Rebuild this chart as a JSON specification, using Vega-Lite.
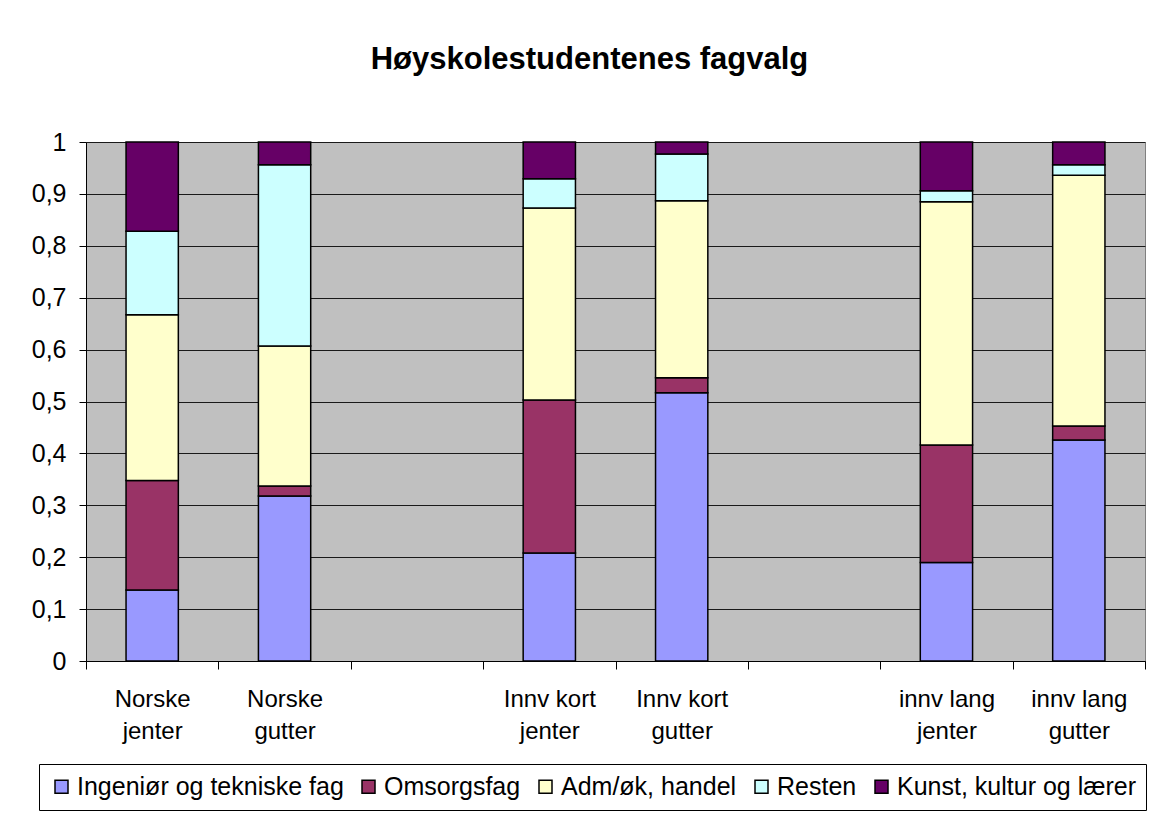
{
  "$schema": "https://vega.github.io/schema/vega-lite/v6.json",
  "width": 1059,
  "height": 519,
  "autosize": {"type": "none"},
  "padding": {"left": 86, "top": 142, "right": 5, "bottom": 161},
  "background": "white",
  "config": {
    "font": "Liberation Sans",
    "view": {"fill": "#C0C0C0", "stroke": "#808080", "strokeWidth": 1}
  },
  "title": {
    "text": "Høyskolestudentenes fagvalg",
    "font": "Liberation Sans",
    "fontSize": 31,
    "fontWeight": "bold",
    "color": "black",
    "anchor": "middle",
    "frame": "group",
    "dx": -26,
    "baseline": "alphabetic",
    "offset": 30
  },
  "data": {
    "values": [
      {"gruppe": "Norske jenter", "fag": "Ingeniør og tekniske fag", "k": 1, "andel": 0.137},
      {"gruppe": "Norske jenter", "fag": "Omsorgsfag", "k": 2, "andel": 0.211},
      {"gruppe": "Norske jenter", "fag": "Adm/øk, handel", "k": 3, "andel": 0.319},
      {"gruppe": "Norske jenter", "fag": "Resten", "k": 4, "andel": 0.161},
      {"gruppe": "Norske jenter", "fag": "Kunst, kultur og lærer", "k": 5, "andel": 0.172},
      {"gruppe": "Norske gutter", "fag": "Ingeniør og tekniske fag", "k": 1, "andel": 0.318},
      {"gruppe": "Norske gutter", "fag": "Omsorgsfag", "k": 2, "andel": 0.019},
      {"gruppe": "Norske gutter", "fag": "Adm/øk, handel", "k": 3, "andel": 0.270},
      {"gruppe": "Norske gutter", "fag": "Resten", "k": 4, "andel": 0.349},
      {"gruppe": "Norske gutter", "fag": "Kunst, kultur og lærer", "k": 5, "andel": 0.044},
      {"gruppe": "Innv kort jenter", "fag": "Ingeniør og tekniske fag", "k": 1, "andel": 0.208},
      {"gruppe": "Innv kort jenter", "fag": "Omsorgsfag", "k": 2, "andel": 0.295},
      {"gruppe": "Innv kort jenter", "fag": "Adm/øk, handel", "k": 3, "andel": 0.370},
      {"gruppe": "Innv kort jenter", "fag": "Resten", "k": 4, "andel": 0.056},
      {"gruppe": "Innv kort jenter", "fag": "Kunst, kultur og lærer", "k": 5, "andel": 0.071},
      {"gruppe": "Innv kort gutter", "fag": "Ingeniør og tekniske fag", "k": 1, "andel": 0.517},
      {"gruppe": "Innv kort gutter", "fag": "Omsorgsfag", "k": 2, "andel": 0.029},
      {"gruppe": "Innv kort gutter", "fag": "Adm/øk, handel", "k": 3, "andel": 0.341},
      {"gruppe": "Innv kort gutter", "fag": "Resten", "k": 4, "andel": 0.090},
      {"gruppe": "Innv kort gutter", "fag": "Kunst, kultur og lærer", "k": 5, "andel": 0.023},
      {"gruppe": "innv lang jenter", "fag": "Ingeniør og tekniske fag", "k": 1, "andel": 0.190},
      {"gruppe": "innv lang jenter", "fag": "Omsorgsfag", "k": 2, "andel": 0.226},
      {"gruppe": "innv lang jenter", "fag": "Adm/øk, handel", "k": 3, "andel": 0.469},
      {"gruppe": "innv lang jenter", "fag": "Resten", "k": 4, "andel": 0.021},
      {"gruppe": "innv lang jenter", "fag": "Kunst, kultur og lærer", "k": 5, "andel": 0.094},
      {"gruppe": "innv lang gutter", "fag": "Ingeniør og tekniske fag", "k": 1, "andel": 0.426},
      {"gruppe": "innv lang gutter", "fag": "Omsorgsfag", "k": 2, "andel": 0.027},
      {"gruppe": "innv lang gutter", "fag": "Adm/øk, handel", "k": 3, "andel": 0.483},
      {"gruppe": "innv lang gutter", "fag": "Resten", "k": 4, "andel": 0.020},
      {"gruppe": "innv lang gutter", "fag": "Kunst, kultur og lærer", "k": 5, "andel": 0.044}
    ]
  },
  "mark": {"type": "bar", "width": {"band": 0.395}, "stroke": "black", "strokeWidth": 1.5},
  "encoding": {
    "x": {
      "field": "gruppe",
      "type": "nominal",
      "scale": {
        "domain": ["Norske jenter", "Norske gutter", "gap1", "Innv kort jenter", "Innv kort gutter", "gap2", "innv lang jenter", "innv lang gutter"],
        "paddingInner": 0,
        "paddingOuter": 0
      },
      "axis": {
        "title": null,
        "labelAngle": 0,
        "labelExpr": "indexof(datum.label, 'gap') == 0 ? '' : [slice(datum.label, 0, lastindexof(datum.label, ' ')), slice(datum.label, lastindexof(datum.label, ' ') + 1)]",
        "labelFont": "Liberation Sans",
        "labelFontSize": 24,
        "labelColor": "black",
        "labelLineHeight": 32,
        "labelPadding": 18,
        "labelLimit": 300,
        "tickBand": "extent",
        "tickSize": 8,
        "tickColor": "black",
        "domainColor": "black",
        "grid": false
      }
    },
    "y": {
      "field": "andel",
      "type": "quantitative",
      "stack": "zero",
      "scale": {"domain": [0, 1], "nice": false},
      "axis": {
        "title": null,
        "values": [0, 0.1, 0.2, 0.3, 0.4, 0.5, 0.6, 0.7, 0.8, 0.9, 1],
        "labelExpr": "replace(format(datum.value, '.1~f'), '.', ',')",
        "labelFont": "Liberation Sans",
        "labelFontSize": 25,
        "labelColor": "black",
        "labelPadding": 13,
        "tickSize": 7,
        "tickColor": "black",
        "domainColor": "black",
        "grid": true,
        "gridColor": "#1a1a1a",
        "gridWidth": 1
      }
    },
    "color": {
      "field": "fag",
      "type": "nominal",
      "scale": {
        "domain": ["Ingeniør og tekniske fag", "Omsorgsfag", "Adm/øk, handel", "Resten", "Kunst, kultur og lærer"],
        "range": ["#9999FF", "#993366", "#FFFFCC", "#CCFFFF", "#660066"]
      },
      "legend": {
        "orient": "none",
        "legendX": -47,
        "legendY": 622,
        "direction": "horizontal",
        "columns": 5,
        "title": null,
        "fillColor": "white",
        "strokeColor": "black",
        "padding": 10,
        "symbolType": "square",
        "symbolSize": 169,
        "symbolStrokeColor": "black",
        "symbolStrokeWidth": 1.5,
        "symbolOffset": 0,
        "labelFont": "Liberation Sans",
        "labelFontSize": 25,
        "labelColor": "black",
        "labelOffset": 3,
        "labelLimit": 400,
        "columnPadding": 12
      }
    },
    "order": {"field": "k", "type": "quantitative"}
  }
}
